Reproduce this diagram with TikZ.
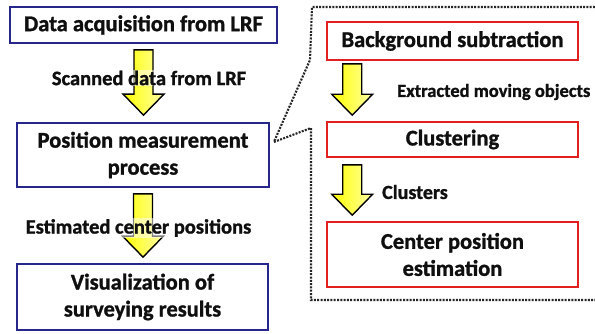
\documentclass[tikz,border=0pt]{standalone}
\usepackage{fontspec}
\setmainfont{Carlito}[BoldFeatures={FakeBold=1.2}]
\usetikzlibrary{calc}
\definecolor{boxblue}{RGB}{38,38,140}
\definecolor{boxred}{RGB}{226,32,32}
\definecolor{txt}{RGB}{15,15,15}
\newcommand{\blockarr}[2]{%
  \path[blockarrow] let \p1=(#1), \p2=(#2) in
    (\x1-9.5pt,\y1) -- (\x1+9.5pt,\y1) -- (\x1+9.5pt,\y2+21pt) -- (\x1+20.5pt,\y2+21pt)
    -- (\x1,\y2) -- (\x1-20.5pt,\y2+21pt) -- (\x1-9.5pt,\y2+21pt) -- cycle;}
\begin{document}
\begin{tikzpicture}[x=1pt,y=-1pt,
  boxtext/.style={font=\bfseries\fontsize{22.5}{27}\selectfont, text=txt, align=center, inner sep=0pt},
  bluebox/.style={boxtext, draw=boxblue, line width=1.8pt},
  redbox/.style={boxtext, draw=boxred, line width=1.6pt},
  lbl/.style={font=\bfseries\fontsize{20.5}{24}\selectfont, text=txt, inner sep=1pt},
  blockarrow/.style={draw=black, line width=1.4pt, line join=miter, left color=yellow, right color=yellow!35!white},
  dotline/.style={draw=black!85, line width=2.1pt, dash pattern=on 2pt off 1.3pt}]
\useasboundingbox (0,0) rectangle (595,333);
\fill[white] (0,0) rectangle (595,333);
% left column
\node[bluebox, minimum width=267, minimum height=36] (b1) at (143.5,25) {Data acquisition from LRF};
\node[bluebox, minimum width=252, minimum height=64] (b2) at (143,155) {Position measurement\\process};
\node[bluebox, minimum width=251, minimum height=66] (b3) at (142.5,297) {Visualization of\\surveying results};
% right column
\node[redbox, minimum width=251, minimum height=38] (r1) at (452.5,41) {Background subtraction};
\node[redbox, minimum width=251, minimum height=35] (r2) at (452.5,139.5) {Clustering};
\node[redbox, minimum width=251, minimum height=65] (r3) at (452.5,254.5) {Center position\\estimation};
% arrows
\coordinate (a1s) at ($(b1.south)+(0,6)$);
\coordinate (a1t) at ($(b2.north)+(0,-7)$);
\coordinate (a2s) at ($(b2.south)+(0,6)$);
\coordinate (a2t) at ($(b3.north)+(0,-6)$);
\coordinate (a3s) at ($(r1.south west)+(26,3)$);
\coordinate (a3t) at ($(a3s |- r2.north)+(0,-6)$);
\coordinate (a4s) at ($(r2.south west)+(26,7)$);
\coordinate (a4t) at ($(a4s |- r3.north)+(0,-6)$);
\blockarr{a1s}{a1t}
\blockarr{a2s}{a2t}
\blockarr{a3s}{a3t}
\blockarr{a4s}{a4t}
% labels
\node[lbl, fill=white, fill opacity=0.5, text opacity=1] (l1) at (149,78) {Scanned data from LRF};
\node[lbl, fill=white, fill opacity=0.5, text opacity=1] (l2) at (138.5,228) {Estimated center positions};
\node[lbl, anchor=west, font=\bfseries\fontsize{18.5}{22}\selectfont] (l3) at (396,92) {Extracted moving objects};
\node[lbl, anchor=west, font=\bfseries\fontsize{20}{24}\selectfont] (l4) at (381,192) {Clusters};
% dotted callout
\coordinate (cp) at ($(b2.east)+(4,-13)$);
\coordinate (d1) at (595,7);
\coordinate (d2) at (312,7);
\coordinate (d3) at (310,60);
\coordinate (d4) at (311,128);
\coordinate (d5) at (311,300);
\coordinate (d6) at (595,300);
\draw[dotline] (d1) -- (d2) -- (d3) -- (cp) -- (d4) -- (d5) -- (d6);
\end{tikzpicture}
\end{document}
